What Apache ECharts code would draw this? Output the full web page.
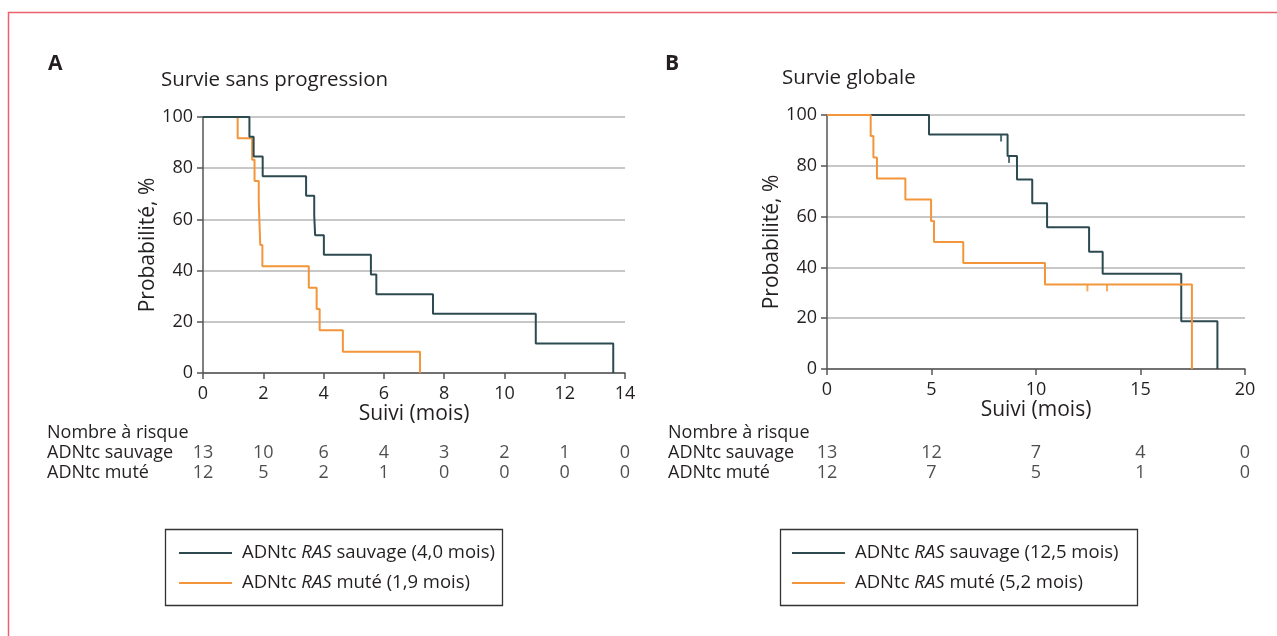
<!DOCTYPE html>
<html><head><meta charset="utf-8">
<script src="https://cdn.jsdelivr.net/npm/echarts@6/dist/echarts.min.js"></script>
<style>html,body{margin:0;padding:0;background:#fff}#c{width:1277px;height:636px}</style>
</head><body><div id="c"></div>
<script>
// ---- Data ----
// Panel A: Survie sans progression (mois, %)
const tA_wt  = [0, 1.54, 1.68, 1.98, 3.42, 3.69, 3.72, 4.01, 5.57, 5.75, 7.63, 11.04, 13.61];
const sA_wt  = [100, 92.3, 84.6, 76.9, 69.2, 61.5, 53.8, 46.2, 38.5, 30.8, 23.1, 11.5, 0];
const tA_mut = [0, 1.15, 1.63, 1.71, 1.85, 1.90, 1.97, 3.51, 3.77, 3.87, 4.64, 7.20];
const sA_mut = [100, 91.7, 83.3, 75.0, 66.7, 50.0, 41.7, 33.3, 25.0, 16.7, 8.3, 0];
// Panel B: Survie globale
const tB_wt  = [0, 4.88, 8.64, 9.09, 9.82, 10.53, 12.54, 13.19, 16.95, 18.68];
const sB_wt  = [100, 92.3, 83.9, 74.6, 65.3, 55.8, 46.2, 37.5, 18.8, 0];
const tB_mut = [0, 2.09, 2.22, 2.39, 3.75, 4.98, 5.12, 6.52, 10.43, 17.46];
const sB_mut = [100, 91.7, 83.3, 75.0, 66.7, 58.3, 50.0, 41.7, 33.3, 0];
// censored observations (panel B)
const cB_wt_t  = [8.33, 8.71];
const cB_wt_s  = [92.3, 83.9];
const cB_mut_t = [12.46, 13.40];
const cB_mut_s = [33.3, 33.3];
// Number at risk
const riskRows   = ['ADNtc sauvage', 'ADNtc muté'];
const riskTimesA = [0, 2, 4, 6, 8, 10, 12, 14];
const riskA_wt   = [13, 10, 6, 4, 3, 2, 1, 0];
const riskA_mut  = [12, 5, 2, 1, 0, 0, 0, 0];
const riskTimesB = [0, 5, 10, 15, 20];
const riskB_wt   = [13, 12, 7, 4, 0];
const riskB_mut  = [12, 7, 5, 1, 0];
// Legend names
const nameA_wt  = 'ADNtc RAS sauvage (4,0 mois)';
const nameA_mut = 'ADNtc RAS muté (1,9 mois)';
const nameB_wt  = 'ADNtc RAS sauvage (12,5 mois)';
const nameB_mut = 'ADNtc RAS muté (5,2 mois)';

// ---- Styles ----
const FONT = 'Open Sans';
const TXT = '#231f20';
const DARK = '#2c4a50';
const ORANGE = '#f3953a';
const pairs = (t, s) => t.map((x, i) => [x, s[i]]);

function kmAxisX(idx, max, interval) {
  return {
    gridIndex: idx, type: 'value', min: 0, max: max, interval: interval,
    name: 'Suivi (mois)', nameLocation: 'middle', nameGap: 26,
    nameTextStyle: { fontFamily: FONT, fontSize: 21, color: TXT },
    axisLine: { show: true, lineStyle: { color: '#555', width: 1.5 } },
    axisTick: { show: true, length: 6, lineStyle: { color: '#555', width: 1.5 } },
    axisLabel: { fontFamily: FONT, fontSize: 18, color: TXT, margin: 12 },
    splitLine: { show: false }
  };
}
function kmAxisY(idx) {
  return {
    gridIndex: idx, type: 'value', min: 0, max: 100, interval: 20,
    name: 'Probabilité, %', nameLocation: 'middle', nameGap: 42,
    nameTextStyle: { fontFamily: FONT, fontSize: 21, color: TXT },
    axisLine: { show: true, lineStyle: { color: '#555', width: 1.5 } },
    axisTick: { show: true, length: 6, lineStyle: { color: '#555', width: 1.5 } },
    axisLabel: { fontFamily: FONT, fontSize: 18, color: TXT, margin: 10 },
    splitLine: { show: true, lineStyle: { color: '#b5b5b5', width: 1.5 } }
  };
}
function riskAxisX(idx, max) {
  return { gridIndex: idx, type: 'value', min: 0, max: max, show: false };
}
function riskAxisY(idx, margin) {
  return {
    gridIndex: idx, type: 'category', data: riskRows, inverse: true,
    axisLine: { show: false }, axisTick: { show: false }, splitLine: { show: false },
    axisLabel: { interval: 0, fontFamily: FONT, fontSize: 18, color: TXT, align: 'left', margin: margin }
  };
}
function kmLine(name, t, s, color, xi, z) {
  return {
    name: name, type: 'line', xAxisIndex: xi, yAxisIndex: xi, step: 'end',
    data: pairs(t, s), symbol: 'none', z: z,
    lineStyle: { color: color, width: 2 }, itemStyle: { color: color }
  };
}
function censor(name, t, s, color, xi) {
  return {
    name: name, type: 'scatter', xAxisIndex: xi, yAxisIndex: xi,
    data: pairs(t, s), symbol: 'rect', symbolSize: [2, 7], symbolOffset: [0, 3.5],
    itemStyle: { color: color }, z: 5
  };
}
function riskSeries(xi, times, vals, row) {
  return {
    type: 'scatter', xAxisIndex: xi, yAxisIndex: xi, symbolSize: 1,
    itemStyle: { color: 'rgba(0,0,0,0)' },
    data: times.map((t, i) => [t, row, vals[i]]),
    label: { show: true, position: 'inside', formatter: p => String(p.value[2]),
             fontFamily: FONT, fontSize: 18, color: TXT }
  };
}
function legendFor(names, left) {
  return {
    data: names, left: left, top: 543, orient: 'vertical', icon: 'rect', padding: 0,
    itemWidth: 53, itemHeight: 2, itemGap: 10, selectedMode: false,
    formatter: n => n.replace('RAS', '{i|RAS}'),
    textStyle: { fontFamily: FONT, fontSize: 18.5, color: TXT, lineHeight: 20, padding: [0, 0, 0, 5],
                 rich: { i: { fontFamily: FONT, fontSize: 18.5, fontStyle: 'italic', color: TXT } } }
  };
}
function label(x, y, text, size, bold) {
  return { type: 'text', x: x, y: y, silent: true,
    style: { text: text, fontFamily: FONT, fontSize: size, fontWeight: bold ? 'bold' : 'normal',
             fill: TXT, align: 'left', verticalAlign: 'middle' } };
}

const chart = echarts.init(document.getElementById('c'), null, { renderer: 'canvas' });
chart.setOption({
  animation: false,
  backgroundColor: '#fff',
  grid: [
    { left: 203, top: 117, width: 422, height: 256 },
    { left: 827, top: 115, width: 418, height: 254 },
    { left: 203, top: 443, width: 422, height: 40 },
    { left: 827, top: 443, width: 418, height: 40 }
  ],
  xAxis: [kmAxisX(0, 14, 2), kmAxisX(1, 20, 5), riskAxisX(2, 14), riskAxisX(3, 20)],
  yAxis: [kmAxisY(0), kmAxisY(1), riskAxisY(2, 156), riskAxisY(3, 159)],
  legend: [legendFor([nameA_wt, nameA_mut], 179), legendFor([nameB_wt, nameB_mut], 792)],
  series: [
    kmLine(nameA_mut, tA_mut, sA_mut, ORANGE, 0, 3),
    kmLine(nameA_wt, tA_wt, sA_wt, DARK, 0, 4),
    kmLine(nameB_wt, tB_wt, sB_wt, DARK, 1, 3),
    kmLine(nameB_mut, tB_mut, sB_mut, ORANGE, 1, 4),
    censor('cens B sauvage', cB_wt_t, cB_wt_s, DARK, 1),
    censor('cens B muté', cB_mut_t, cB_mut_s, ORANGE, 1),
    riskSeries(2, riskTimesA, riskA_wt, 0),
    riskSeries(2, riskTimesA, riskA_mut, 1),
    riskSeries(3, riskTimesB, riskB_wt, 0),
    riskSeries(3, riskTimesB, riskB_mut, 1)
  ],
  graphic: [
    { type: 'rect', shape: { x: 8.5, y: 12.5, width: 1320, height: 700 },
      style: { fill: 'none', stroke: '#e8616b', lineWidth: 1.5 }, silent: true },
    label(48, 64, 'A', 21, true),
    label(665, 64, 'B', 21, true),
    label(161, 80, 'Survie sans progression', 20.5),
    label(782, 78, 'Survie globale', 20.5),
    label(47, 433, 'Nombre à risque', 18),
    label(668, 433, 'Nombre à risque', 18),
    { type: 'rect', shape: { x: 165.5, y: 529.5, width: 337, height: 76 },
      style: { fill: 'none', stroke: '#333', lineWidth: 1.3 }, silent: true },
    { type: 'rect', shape: { x: 780.5, y: 529.5, width: 357, height: 76 },
      style: { fill: 'none', stroke: '#333', lineWidth: 1.3 }, silent: true }
  ]
});
</script></body></html>
